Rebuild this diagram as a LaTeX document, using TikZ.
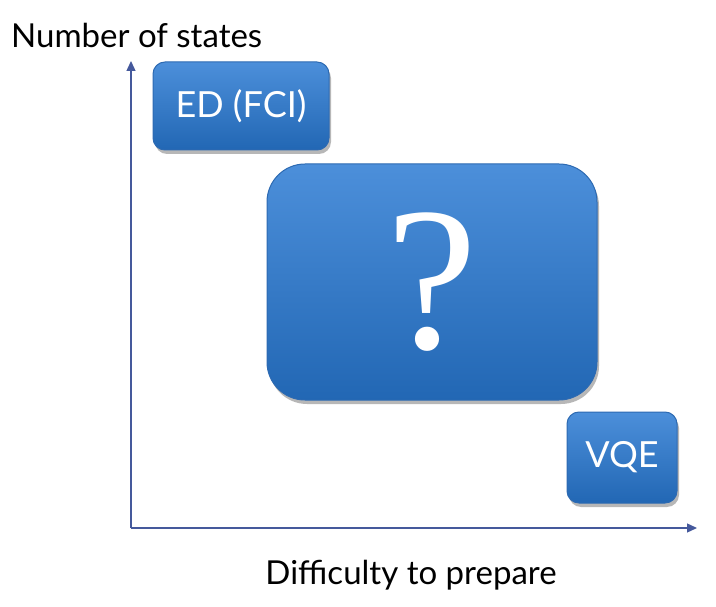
\documentclass[tikz,border=0pt]{standalone}
\usepackage{fontspec}
\setmainfont{Lato}
\newfontfamily\qfont{Liberation Serif}
\usetikzlibrary{shadows,arrows.meta}
\definecolor{axisblue}{HTML}{45599C}
\definecolor{boxtop}{HTML}{4C8FDA}
\definecolor{boxbot}{HTML}{2267B4}
\definecolor{boxline}{HTML}{2D6AB2}
\tikzset{
  box/.style={draw=boxline, line width=1pt, top color=boxtop, bottom color=boxbot,
    drop shadow={shadow xshift=2pt, shadow yshift=-4pt, opacity=0.4, fill=black!70},
    text=white, inner sep=0pt},
  axis/.style={draw=axisblue, line width=1.3pt, -{Triangle[length=10pt,width=9pt]}},
  lbl/.style={text=black, inner sep=0pt, font=\fontsize{33}{36}\selectfont}
}
\begin{document}
\begin{tikzpicture}[x=1pt,y=-1pt]
\useasboundingbox (0,0) rectangle (716,607);
\coordinate (o) at (131,528);
\coordinate (ytip) at (131,61);
\coordinate (xtip) at (697,528);
\draw[axis] (o) -- (ytip);
\draw[axis] (o) -- (xtip);
\node[box, rounded corners=12pt, minimum width=176pt, minimum height=88pt, font=\fontsize{36}{40}\selectfont] (ed) at (241,106) {ED (FCI)};
\node[box, rounded corners=38pt, minimum width=330pt, minimum height=236pt, font=\qfont\fontsize{205}{205}\selectfont] (q) at (432,282) {?};
\node[box, rounded corners=12pt, minimum width=110pt, minimum height=91pt, font=\fontsize{36}{40}\selectfont] (vqe) at (622,457.5) {VQE};
\node[lbl, anchor=west] (ylab) at (11,35) {Number of states};
\node[lbl] (xlab) at (411,575) {Difficulty to prepare};
\end{tikzpicture}
\end{document}
